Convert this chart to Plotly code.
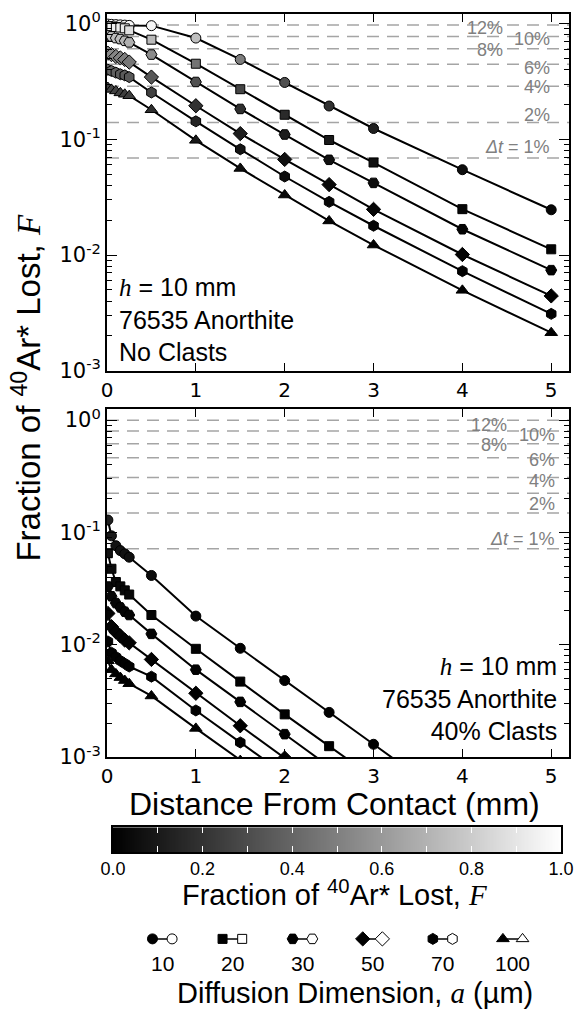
import numpy as np
import plotly.graph_objects as go

# ---------------- data ----------------
distance_mm = [0.01, 0.05, 0.1, 0.15, 0.2, 0.25, 0.5, 1, 1.5, 2, 2.5, 3, 4, 5]
diffusion_um = [10, 20, 30, 50, 70, 100]
symbols = ["circle", "square", "hexagon2", "diamond", "hexagon", "triangle-up"]
marker_px = [10, 9, 11, 11, 11, 11]

# No clasts (top panel)
top_a10 = [0.99, 0.985, 0.98, 0.975, 0.97, 0.965, 0.96, 0.75, 0.49, 0.31, 0.194, 0.124, 0.0546, 0.0246]
top_a20 = [0.95, 0.945, 0.935, 0.925, 0.91, 0.875, 0.726, 0.45, 0.271, 0.163, 0.0986, 0.063, 0.0249, 0.0112]
top_a30 = [0.79, 0.775, 0.75, 0.735, 0.71, 0.688, 0.54, 0.313, 0.183, 0.11, 0.0665, 0.042, 0.0167, 0.0074]
top_a50 = [0.555, 0.54, 0.52, 0.505, 0.49, 0.465, 0.345, 0.195, 0.112, 0.067, 0.0406, 0.0248, 0.0101, 0.00443]
top_a70 = [0.40, 0.39, 0.377, 0.365, 0.357, 0.345, 0.254, 0.143, 0.082, 0.0477, 0.0288, 0.0179, 0.00725, 0.0031]
top_a100 = [0.28, 0.27, 0.262, 0.252, 0.245, 0.238, 0.18, 0.098, 0.056, 0.033, 0.0197, 0.0122, 0.00495, 0.00213]

# 40% clasts (bottom panel)
bot_a10 = [0.129, 0.0933, 0.0762, 0.0689, 0.0645, 0.0602, 0.0414, 0.018, 0.0093, 0.0048, 0.0025, 0.0013, 0.00035, 0.0001]
bot_a20 = [0.0653, 0.0475, 0.0362, 0.0331, 0.0305, 0.028, 0.0184, 0.0092, 0.0047, 0.0024, 0.00125, 0.00065, 0.00018, 0.00005]
bot_a30 = [0.033, 0.027, 0.0235, 0.0215, 0.0197, 0.0184, 0.0125, 0.006, 0.0031, 0.0016, 0.00083, 0.00043, 0.00012, 0.00003]
bot_a50 = [0.019, 0.0145, 0.013, 0.012, 0.011, 0.0104, 0.0074, 0.0037, 0.0019, 0.00098, 0.0005, 0.00026, 0.00007, 0.00002]
bot_a70 = [0.0107, 0.0085, 0.0078, 0.0072, 0.0068, 0.0064, 0.0052, 0.0026, 0.00135, 0.0007, 0.00036, 0.00019, 0.00005, 0.000014]
bot_a100 = [0.0072, 0.006, 0.0055, 0.0051, 0.0048, 0.0045, 0.0035, 0.0018, 0.00093, 0.00048, 0.00025, 0.00013, 0.000035, 0.00001]

# reference lines (age reduction, Delta t)
dt_labels = ["12%", "10%", "8%", "6%", "4%", "2%", "<i>\u0394t</i> = 1%"]
top_dt_F = [0.975, 0.775, 0.605, 0.445, 0.287, 0.14, 0.069]
top_dt_labelF = [0.914, 0.736, 0.588, 0.416, 0.281, 0.163, 0.0864]
top_dt_labelx = [4.48, 5.01, 4.48, 5.01, 5.01, 5.01, 5.01]
bot_dt_F = [1.0, 0.80, 0.615, 0.463, 0.309, 0.223, 0.149, 0.0715]
bot_dt_labelF = [0.904, 0.738, 0.603, 0.444, 0.29, 0.178, 0.0878]
bot_dt_labelx = [4.53, 5.07, 4.53, 5.07, 5.07, 5.07, 5.07]

y_ticks = [1e-3, 1e-2, 1e-1, 1]
y_ticktext = ["10<sup>-3</sup>", "10<sup>-2</sup>", "10<sup>-1</sup>", "10<sup>0</sup>"]
x_ticks = [0, 1, 2, 3, 4, 5]
cb_ticks = [0.0, 0.2, 0.4, 0.6, 0.8, 1.0]
cb_ticktext = ["0.0", "0.2", "0.4", "0.6", "0.8", "1.0"]

top_series = [top_a10, top_a20, top_a30, top_a50, top_a70, top_a100]
bot_series = [bot_a10, bot_a20, bot_a30, bot_a50, bot_a70, bot_a100]

# ---------------- figure ----------------
W, H = 582, 1024
ML, MR, MT, MB = 107, 7, 14, 0
PW, PH = W - ML - MR, H - MT - MB


def fy(py):
    return (H - MB - py) / PH


def fx(px):
    return (px - ML) / PW


SANS = "Liberation Sans, Arial, Helvetica, sans-serif"
TICKF = "DejaVu Sans, sans-serif"
gray_cs = [[0, "rgb(0,0,0)"], [1, "rgb(255,255,255)"]]

fig = go.Figure()

for series, xa, ya in [(top_series, "x", "y"), (bot_series, "x2", "y2")]:
    for F, sym, ms in zip(series, symbols, marker_px):
        fig.add_trace(go.Scatter(
            x=distance_mm, y=F, mode="lines+markers", xaxis=xa, yaxis=ya,
            line=dict(color="black", width=2),
            marker=dict(symbol=sym, size=ms, color=F, colorscale=gray_cs, cmin=0, cmax=1,
                        line=dict(color="black", width=1)),
            showlegend=False, hoverinfo="skip"))

# colour bar as a heatmap strip
cb_x = np.linspace(0, 1, 201)
fig.add_trace(go.Heatmap(x=cb_x, y=[0, 1], z=[cb_x, cb_x], colorscale=gray_cs, zmin=0, zmax=1,
                         zsmooth="best", showscale=False, xaxis="x3", yaxis="y3", hoverinfo="skip"))

# legend: filled - open marker pairs
for i, (sym, ms) in enumerate(zip(symbols, marker_px)):
    fig.add_trace(go.Scatter(
        x=[i - 0.14, i + 0.14], y=[0, 0], mode="lines+markers", xaxis="x4", yaxis="y4",
        line=dict(color="black", width=1.5),
        marker=dict(symbol=sym, size=ms, color=["black", "white"], line=dict(color="black", width=1)),
        showlegend=False, hoverinfo="skip"))

common_x = dict(range=[0, 5.2], tickvals=x_ticks, ticks="inside", ticklen=8, tickwidth=1.3,
                tickcolor="black", mirror="allticks", showline=True, linecolor="black", linewidth=2,
                showgrid=False, zeroline=False, tickfont=dict(family=TICKF, size=20, color="black"))
minor_vals = [k * 10.0 ** e for e in range(-3, 1) for k in range(2, 10)]
common_y = dict(type="log", tickvals=y_ticks, ticktext=y_ticktext, ticks="inside", ticklen=10,
                tickwidth=1.3, tickcolor="black", mirror="allticks", showline=True, linecolor="black",
                linewidth=2, showgrid=False, zeroline=False,
                minor=dict(tickvals=minor_vals, ticks="inside", ticklen=5, tickwidth=1, tickcolor="black"),
                tickfont=dict(family=TICKF, size=21, color="black"))

fig.update_layout(
    width=W, height=H, margin=dict(l=ML, r=MR, t=MT, b=MB),
    paper_bgcolor="white", plot_bgcolor="white",
    xaxis=dict(domain=[0, 1], anchor="y", **common_x),
    yaxis=dict(domain=[fy(375), fy(14)], anchor="x", range=[-3, 0.083], **common_y),
    xaxis2=dict(domain=[0, 1], anchor="y2", **common_x),
    yaxis2=dict(domain=[fy(766), fy(414)], anchor="x2", range=[-3, 0.097], **common_y),
    xaxis3=dict(domain=[fx(113), fx(567)], anchor="y3", range=[0, 1], tickvals=cb_ticks,
                ticktext=cb_ticktext, ticks="inside", ticklen=6, tickwidth=1.3, tickcolor="white",
                minor=dict(dtick=0.1, ticks="inside", ticklen=6, tickwidth=1.3, tickcolor="white"),
                mirror="allticks", showline=True, linecolor="black", linewidth=1.5, showgrid=False,
                zeroline=False, tickfont=dict(family=SANS, size=18, color="black")),
    yaxis3=dict(domain=[fy(862), fy(837)], anchor="x3", range=[0, 1], showticklabels=False,
                ticks="", showline=True, mirror=True, linecolor="black", linewidth=1.5,
                showgrid=False, zeroline=False),
    xaxis4=dict(domain=[0, 1], anchor="y4", range=[(ML - 163) / 71, (W - MR - 163) / 71],
                visible=False),
    yaxis4=dict(domain=[fy(960), fy(940)], anchor="x4", range=[-1, 1], visible=False),
)

shapes = []
annotations = []
for yref, Fs in [("y", top_dt_F), ("y2", bot_dt_F)]:
    for F in Fs:
        shapes.append(dict(type="line", xref=("x domain" if yref == "y" else "x2 domain"), yref=yref,
                           x0=0, x1=1, y0=F, y1=F, layer="below",
                           line=dict(color="rgb(165,165,165)", width=1.5, dash="12px,8px")))

for xref, yref, lx, lF in [("x", "y", top_dt_labelx, top_dt_labelF),
                           ("x2", "y2", bot_dt_labelx, bot_dt_labelF)]:
    for txt, x, F in zip(dt_labels, lx, lF):
        annotations.append(dict(text=txt, xref=xref, yref=yref, x=x, y=np.log10(F),
                                xanchor="right", yanchor="middle", showarrow=False,
                                font=dict(family=SANS, size=18, color="rgb(128,128,128)")))

hF = "<span style='font-family:Liberation Serif;font-style:italic'>h</span>"
FF = "<span style='font-family:Liberation Serif;font-style:italic'>F</span>"
aF = "<span style='font-family:Liberation Serif;font-style:italic'>a</span>"

annotations += [
    dict(text=f"{hF} = 10 mm<br>76535 Anorthite<br>No Clasts", xref="paper", yref="paper",
         x=fx(117), y=fy(323), xanchor="left", yanchor="middle", align="left", showarrow=False,
         font=dict(family=SANS, size=25, color="black")),
    dict(text=f"{hF} = 10 mm<br>76535 Anorthite<br>40% Clasts", xref="paper", yref="paper",
         x=fx(565), y=fy(707), xanchor="right", yanchor="middle", align="right", showarrow=False,
         font=dict(family=SANS, size=25, color="black")),
    dict(text=f"Fraction of <sup>40</sup>Ar* Lost, {FF}", xref="paper", yref="paper",
         x=fx(25), y=fy(392), textangle=-90, xanchor="center", yanchor="middle", showarrow=False,
         font=dict(family=SANS, size=33, color="black")),
    dict(text="Distance From Contact (mm)", xref="paper", yref="paper",
         x=fx(337), y=fy(814), xanchor="center", yanchor="middle", showarrow=False,
         font=dict(family=SANS, size=32, color="black")),
    dict(text=f"Fraction of <sup>40</sup>Ar* Lost, {FF}", xref="paper", yref="paper",
         x=fx(337), y=fy(904), xanchor="center", yanchor="middle", showarrow=False,
         font=dict(family=SANS, size=29, color="black")),
    dict(text=f"Diffusion Dimension, {aF} (µm)", xref="paper", yref="paper",
         x=fx(358), y=fy(1005), xanchor="center", yanchor="middle", showarrow=False,
         font=dict(family=SANS, size=29, color="black")),
]
for i, a in enumerate(diffusion_um):
    annotations.append(dict(text=str(a), xref="x4", yref="paper", x=i, y=fy(975),
                            xanchor="center", yanchor="middle", showarrow=False,
                            font=dict(family=SANS, size=21, color="black")))

fig.update_layout(shapes=shapes, annotations=annotations)
fig.write_html("out.html", config={"displayModeBar": False},
               post_script="document.body.style.margin='0px';")
